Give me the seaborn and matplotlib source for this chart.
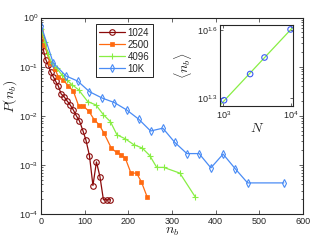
import numpy as np
import matplotlib
matplotlib.use('Agg')
import matplotlib.pyplot as plt
import seaborn as sns
from matplotlib.ticker import FixedLocator, NullLocator, LogLocator

# --- dados ---
n_1024 = [1, 6, 11, 17, 22, 28, 34, 40, 46, 53, 60, 67, 74, 81, 88, 96, 103, 111, 119, 127, 135, 143, 151, 159]
p_1024 = [0.40, 0.21, 0.14, 0.107, 0.079, 0.063, 0.050, 0.040, 0.028, 0.0245, 0.020, 0.0166, 0.0132,
          0.010, 0.0079, 0.0050, 0.0032, 0.00155, 0.00038, 0.00115, 0.00058, 0.000195, 0.000195, 0.000195]

n_2500 = [1, 8, 21, 32, 40, 51, 63, 74, 86, 97, 110, 122, 133, 144, 161, 173, 184, 193, 206, 219, 230, 243]
p_2500 = [0.52, 0.275, 0.12, 0.089, 0.062, 0.054, 0.040, 0.032, 0.0162, 0.0158, 0.0123, 0.0083, 0.0066,
          0.0045, 0.0022, 0.0018, 0.0016, 0.00138, 0.00068, 0.00068, 0.00045, 0.000224]

n_4096 = [1, 9, 16, 25, 36, 48, 59, 71, 86, 107, 126, 143, 159, 174, 193, 212, 232, 249, 265, 281, 318, 353]
p_4096 = [0.58, 0.32, 0.18, 0.117, 0.093, 0.068, 0.054, 0.043, 0.034, 0.0195, 0.0166, 0.0105, 0.0076,
          0.0041, 0.0034, 0.0026, 0.0022, 0.00155, 0.00089, 0.00089, 0.00068, 0.000224]

n_10k = [1, 28, 57, 84, 111, 140, 168, 196, 224, 251, 279, 306, 334, 362, 389, 417, 445, 473, 556]
p_10k = [0.66, 0.12, 0.065, 0.051, 0.031, 0.023, 0.0186, 0.0132, 0.0085, 0.0049, 0.0056, 0.0029,
         0.0017, 0.0017, 0.00087, 0.00166, 0.00083, 0.00043, 0.00043]

# inset: tamanho do sistema vs <n_b>
N_sizes = [1024, 2500, 4096, 10000]
mean_nb = [19.6, 25.5, 30.1, 39.9]

series_labels = ['1024', '2500', '4096', '10K']
cores = ['#8b0a0a', '#ff6a10', '#88ee44', '#4a8cf5']

sns.set_style('ticks')
plt.rcParams['font.family'] = ['Liberation Sans', 'DejaVu Sans']
plt.rcParams['mathtext.fontset'] = 'cm'
plt.rcParams['axes.linewidth'] = 0.8

fig = plt.figure(figsize=(3.2, 2.41), dpi=100)
ax = fig.add_axes([0.128, 0.112, 0.819, 0.815])

estilos = [
    dict(marker='o', markersize=4, markerfacecolor='none', markeredgewidth=0.8),
    dict(marker='s', markersize=2.6, markeredgewidth=0.5),
    dict(marker='+', markersize=4, markeredgewidth=0.8),
    dict(marker='d', markersize=4, markerfacecolor='none', markeredgewidth=0.8),
]
dados = [(n_1024, p_1024), (n_2500, p_2500), (n_4096, p_4096), (n_10k, p_10k)]
for (x, y), lab, cor, st in zip(dados, series_labels, cores, estilos):
    sns.lineplot(x=x, y=y, ax=ax, color=cor, label=lab, linewidth=0.9,
                 markeredgecolor=cor, estimator=None, sort=False, **st)

ax.set_yscale('log')
ax.set_xlim(0, 600)
ax.set_ylim(1e-4, 1)
ax.set_xticks([0, 100, 200, 300, 400, 500, 600])
ax.yaxis.set_major_locator(LogLocator(base=10, numticks=10))
ax.yaxis.set_minor_locator(LogLocator(base=10, subs=np.arange(2, 10), numticks=10))
ax.tick_params(which='both', direction='in', top=True, right=True, labelsize=6.5, pad=2)
ax.tick_params(which='major', length=3, width=0.5)
ax.tick_params(which='minor', length=1.5, width=0.5)
ax.set_xlabel(r'$n_b$', fontsize=10, labelpad=-1)
ax.set_ylabel(r'$P(n_b)$', fontsize=10, labelpad=1)
ax.yaxis.set_label_coords(-0.082, 0.6)

leg = ax.legend(loc='upper left', bbox_to_anchor=(0.21, 0.965), fontsize=7, frameon=True,
                fancybox=False, edgecolor='black', framealpha=1, handlelength=2.6,
                borderpad=0.35, labelspacing=0.2, handletextpad=0.3, borderaxespad=0)
leg.get_frame().set_linewidth(0.6)

# --- inset ---
axi = fig.add_axes([0.6875, 0.56, 0.229, 0.336])
xlim_i = (10 ** 2.95, 10 ** 4.04)
ylim_i = (10 ** 1.267, 10 ** 1.62)
coef = np.polyfit(np.log10(N_sizes), np.log10(mean_nb), 1)
x_fit = np.array(xlim_i)
axi.plot(x_fit, 10 ** np.polyval(coef, np.log10(x_fit)), color='#88ee44', linewidth=0.9)
sns.scatterplot(x=N_sizes, y=mean_nb, ax=axi, marker='o', s=16, facecolor='none',
                edgecolor='#3d5cf5', linewidth=0.8, zorder=3)
axi.set_xscale('log')
axi.set_yscale('log')
axi.set_xlim(*xlim_i)
axi.set_ylim(*ylim_i)
axi.xaxis.set_major_locator(FixedLocator([1e3, 1e4]))
axi.xaxis.set_minor_locator(NullLocator())
axi.set_xticklabels([r'$\mathdefault{10^{3}}$', r'$\mathdefault{10^{4}}$'])
axi.yaxis.set_major_locator(FixedLocator([10 ** 1.3, 10 ** 1.6]))
axi.yaxis.set_minor_locator(NullLocator())
axi.set_yticklabels([r'$\mathdefault{10^{1.3}}$', r'$\mathdefault{10^{1.6}}$'])
axi.tick_params(which='both', direction='in', top=True, right=True, labelsize=6.5, length=2, width=0.5, pad=2)
axi.set_xlabel(r'$N$', fontsize=10, labelpad=0)
axi.set_ylabel(r'$\langle n_b\rangle$', fontsize=10, labelpad=2)

fig.savefig('out.png', dpi=100)
